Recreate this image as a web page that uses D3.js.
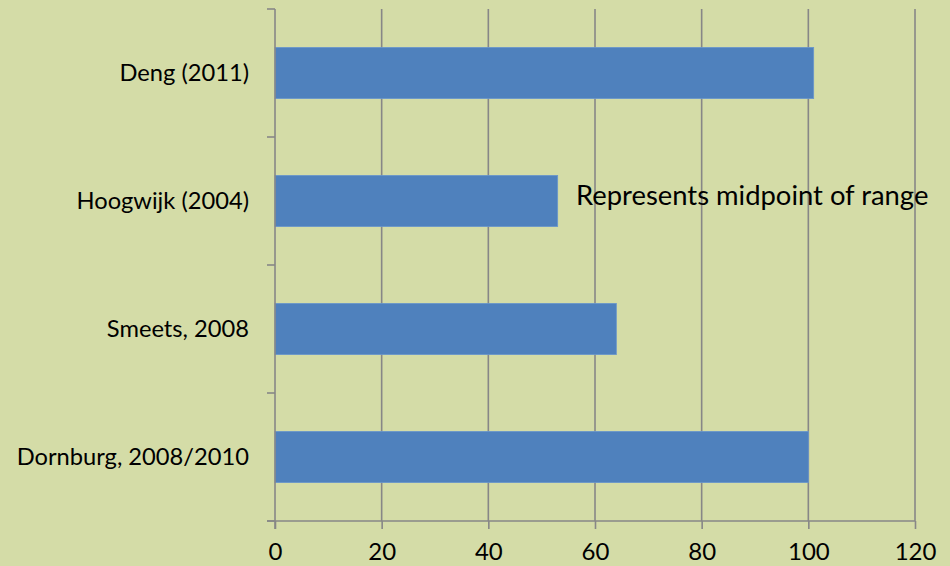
<!DOCTYPE html>
<html>
<head>
<meta charset="utf-8">
<script src="https://cdn.jsdelivr.net/npm/d3@7"></script>
<style>
  html, body { margin: 0; padding: 0; background: #d4dca7; }
  svg { display: block; }
  text { font-family: Lato, "Open Sans", sans-serif; fill: #000; }
</style>
</head>
<body>
<svg id="chart" width="950" height="566"></svg>
<script>
// Studies, listed top to bottom
const categories = ["Deng (2011)", "Hoogwijk (2004)", "Smeets, 2008", "Dornburg, 2008/2010"];
// Bar values per study
const values = [101, 53, 64, 100];
// Horizontal axis ticks
const xTicks = [0, 20, 40, 60, 80, 100, 120];
const note = "Represents midpoint of range";

const svg = d3.select("#chart");
const plotLeft = 275, plotRight = 915, plotTop = 9, plotBottom = 521;

const x = d3.scaleLinear().domain([0, 120]).range([plotLeft, plotRight]);
const y = d3.scaleBand().domain(categories).range([plotTop, plotBottom])
  .paddingInner(0.6).paddingOuter(0.3);

const gridColor = "#878787";

// vertical gridlines
svg.append("g").selectAll("line").data(xTicks.filter(d => d > 0)).join("line")
  .attr("x1", d => x(d)).attr("x2", d => x(d))
  .attr("y1", plotTop).attr("y2", plotBottom)
  .attr("stroke", gridColor).attr("stroke-width", 1.6);

// bars
svg.append("g").selectAll("rect").data(values).join("rect")
  .attr("x", x(0))
  .attr("y", (d, i) => y(categories[i]))
  .attr("width", d => x(d) - x(0))
  .attr("height", y.bandwidth())
  .attr("fill", "#4f81bd")
  .attr("stroke", "#6a97cc").attr("stroke-width", 0.8);

// x axis
const xAxis = svg.append("g").attr("transform", `translate(0,${plotBottom})`)
  .call(d3.axisBottom(x).tickValues(xTicks).tickSize(8).tickSizeOuter(0).tickPadding(14));
xAxis.select(".domain").attr("stroke", gridColor).attr("stroke-width", 1.6)
  .attr("d", `M${plotLeft - 8},0H${plotRight}`);
xAxis.selectAll(".tick line").attr("stroke", gridColor).attr("stroke-width", 1.6);
xAxis.selectAll(".tick text").attr("font-size", 24).attr("font-family", "Lato, sans-serif")
  .attr("fill", "#000");

// y axis with category-boundary ticks
const yAxisG = svg.append("g");
yAxisG.append("line").attr("x1", plotLeft).attr("x2", plotLeft)
  .attr("y1", plotTop).attr("y2", plotBottom + 8)
  .attr("stroke", gridColor).attr("stroke-width", 1.6);
const bounds = d3.range(categories.length + 1).map(i => plotTop + i * y.step());
yAxisG.selectAll("line.tk").data(bounds).join("line").attr("class", "tk")
  .attr("x1", plotLeft - 8).attr("x2", plotLeft).attr("y1", d => d).attr("y2", d => d)
  .attr("stroke", gridColor).attr("stroke-width", 1.6);
yAxisG.selectAll("text").data(categories).join("text")
  .attr("x", plotLeft - 26)
  .attr("y", d => y(d) + y.bandwidth() / 2)
  .attr("dy", "0.35em")
  .attr("text-anchor", "end")
  .attr("font-size", 23.7)
  .text(d => d);

// annotation
svg.append("text")
  .attr("x", 576).attr("y", 205)
  .attr("font-size", 27.4)
  .text(note);
</script>
</body>
</html>
